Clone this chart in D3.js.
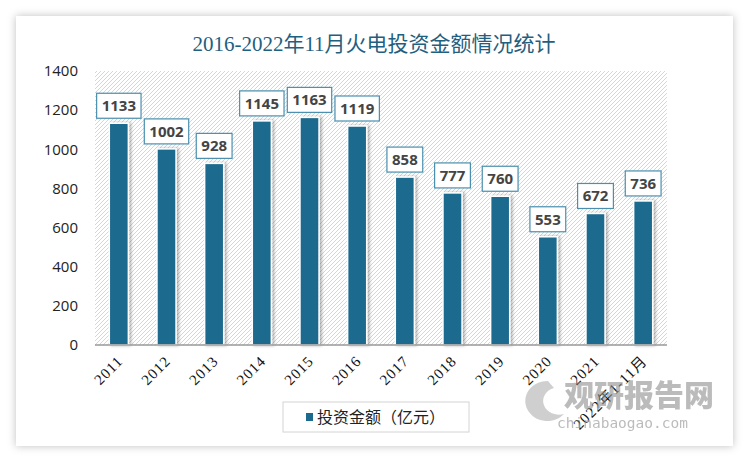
<!DOCTYPE html>
<html><head><meta charset="utf-8">
<script src="https://cdn.jsdelivr.net/npm/d3@7"></script>
<style>body{margin:0;background:#fff;}svg{display:block;}</style>
</head><body>
<svg id="c" width="750" height="460"></svg>
<script>
const categories = ["2011","2012","2013","2014","2015","2016","2017","2018","2019","2020","2021","2022年1-11月"];
const values = [1133,1002,928,1145,1163,1119,858,777,760,553,672,736];
const yTicks = [0,200,400,600,800,1000,1200,1400];
const title = "2016-2022年11月火电投资金额情况统计";
const seriesName = "投资金额（亿元）";

const svg = d3.select("#c");
const defs = svg.append("defs");
const f = defs.append("filter").attr("id","card").attr("x","-5%").attr("y","-5%").attr("width","110%").attr("height","110%");
f.append("feDropShadow").attr("dx",0).attr("dy",0).attr("stdDeviation",4).attr("flood-color","#000").attr("flood-opacity",0.25);
const fb = defs.append("filter").attr("id","bar").attr("x","-30%").attr("y","-10%").attr("width","160%").attr("height","120%");
fb.append("feDropShadow").attr("dx",2).attr("dy",0).attr("stdDeviation",1.5).attr("flood-color","#000").attr("flood-opacity",0.3);
const pat = defs.append("pattern").attr("id","hatch").attr("patternUnits","userSpaceOnUse").attr("width",4).attr("height",4);
pat.append("rect").attr("width",4).attr("height",4).attr("fill","#fff");
pat.append("path").attr("d","M-1,1 l2,-2 M0,4 l4,-4 M3,5 l2,-2").attr("stroke","#d6d6d6").attr("stroke-width",1);

svg.append("rect").attr("x",16).attr("y",16).attr("width",717).attr("height",430).attr("fill","#fff").attr("filter","url(#card)");

svg.append("text").attr("x",374).attr("y",51).attr("text-anchor","middle")
  .attr("font-family","'Liberation Serif','Noto Sans CJK SC',serif").attr("font-size",21).attr("fill","#1f6080")
  .text(title);

const m = {l:95, r:667, t:71, b:345};
const x = d3.scaleBand().domain(categories).range([m.l,m.r]).paddingInner(0.6).paddingOuter(0.3);
const y = d3.scaleLinear().domain([0,1400]).range([m.b,m.t]);

svg.append("rect").attr("x",m.l).attr("y",m.t).attr("width",m.r-m.l).attr("height",m.b-m.t).attr("fill","url(#hatch)");

const yAxis = svg.append("g").attr("transform",`translate(${m.l},0)`)
  .call(d3.axisLeft(y).tickValues(yTicks).tickSize(0).tickPadding(17).tickFormat(d3.format("d")));
yAxis.select(".domain").remove();
yAxis.selectAll("text").attr("font-family","'Open Sans','Noto Sans',sans-serif").attr("font-size",15).attr("fill","#222");

svg.append("g").selectAll("rect").data(values).join("rect")
  .attr("x",(d,i)=>x(categories[i])).attr("y",d=>y(d))
  .attr("width",x.bandwidth()).attr("height",d=>m.b-y(d))
  .attr("fill","#1c6b8e").attr("stroke","#fff").attr("stroke-width",1.5).attr("filter","url(#bar)");

svg.append("line").attr("x1",m.l).attr("x2",m.r).attr("y1",m.b).attr("y2",m.b).attr("stroke","#999").attr("stroke-width",1.5);

const lab = svg.append("g").selectAll("g").data(values).join("g")
  .attr("transform",(d,i)=>`translate(${x(categories[i])+x.bandwidth()/2},${y(d)-17.5})`);
lab.append("rect").attr("x",d=>-(String(d).length*8.6+10)/2).attr("y",-12.5)
  .attr("width",d=>String(d).length*8.6+10).attr("height",25)
  .attr("fill","#fff").attr("stroke","#4a8fae").attr("stroke-width",1.2);
lab.append("text").attr("text-anchor","middle").attr("dy","0.36em")
  .attr("font-family","'Open Sans','Noto Sans',sans-serif").attr("font-weight","bold").attr("font-size",15).attr("fill","#444")
  .text(d=>d);

const xAxis = svg.append("g").attr("transform",`translate(0,${m.b})`)
  .call(d3.axisBottom(x).tickSize(0).tickPadding(0));
xAxis.select(".domain").remove();
xAxis.selectAll("text").attr("font-family","'Liberation Serif','Noto Sans CJK SC',serif").attr("font-size",15).attr("fill","#111")
  .attr("letter-spacing",1).attr("text-anchor","end").attr("dy",0)
  .attr("transform","translate(5,17) rotate(-45)");

// watermark
const wm = svg.append("g").attr("opacity",0.6);
wm.append("text").attr("x",564).attr("y",406).attr("font-family","'Noto Sans CJK SC',sans-serif").attr("font-weight","900").attr("font-size",30).attr("fill","#8f8f8f").text("观研报告网");
wm.append("text").attr("x",557).attr("y",428).attr("font-family","'DejaVu Sans Mono',monospace").attr("font-size",14.5).attr("fill","#8f8f8f").text("chinabaogao.com");
wm.append("path").attr("d","M548,381 a22,20 0 1,0 16,33 a15,13 0 1,1 -10,-26 Z").attr("fill","#b0b0b0");

// legend
svg.append("rect").attr("x",283).attr("y",402).attr("width",186).attr("height",30).attr("fill","#fff").attr("stroke","#d4d4d4");
svg.append("rect").attr("x",306).attr("y",413).attr("width",7).attr("height",8).attr("fill","#1c6b8e");
svg.append("text").attr("x",317).attr("y",423).attr("font-family","'Noto Sans CJK SC',sans-serif").attr("font-size",16).attr("fill","#222").text(seriesName);
</script>
</body></html>
